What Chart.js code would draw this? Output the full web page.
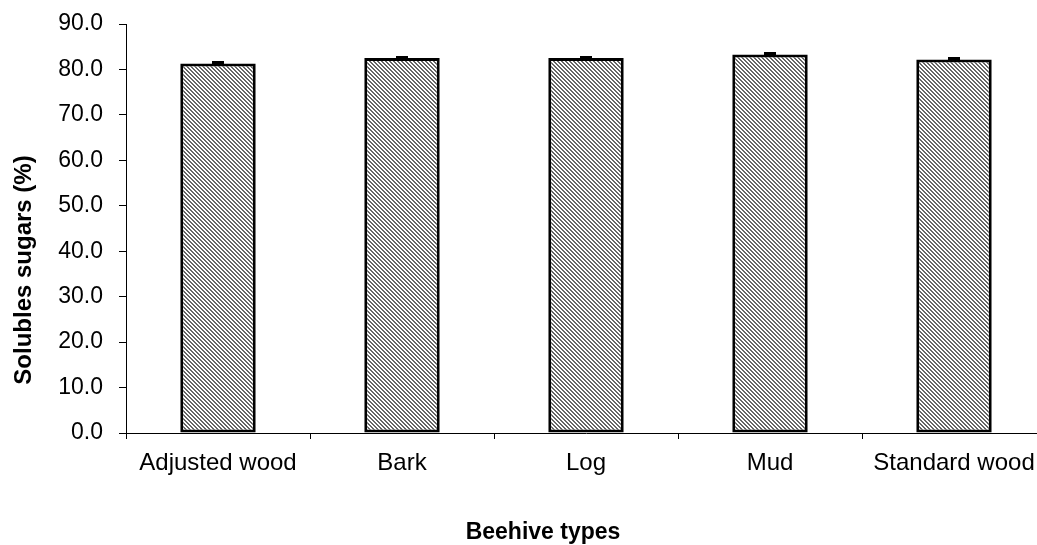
<!DOCTYPE html>
<html>
<head>
<meta charset="utf-8">
<script src="https://cdn.jsdelivr.net/npm/chart.js@4"></script>
<style>
  html, body { margin: 0; padding: 0; background: #fff; overflow: hidden; }
  #wrap { width: 1037px; height: 545px; overflow: hidden; }
</style>
</head>
<body>
<div id="wrap"><canvas id="chart" width="1048" height="545"></canvas></div>
<script>
// Data
const categories = ['Adjusted wood', 'Bark', 'Log', 'Mud', 'Standard wood'];
const sugarValues = [81.3, 82.5, 82.5, 83.3, 82.2];
const sugarErrors = [0.45, 0.45, 0.45, 0.5, 0.5];
const yTicks = [0, 10, 20, 30, 40, 50, 60, 70, 80, 90];

const yTitle = 'Solubles sugars (%)';
const xTitle = 'Beehive types';

const FONT = '"Liberation Sans", Arial, sans-serif';

// 4x4 tile with "\\" diagonal stripes, like the original bars
function hatchTile() {
  const c = document.createElement('canvas');
  c.width = 4;
  c.height = 4;
  const g = c.getContext('2d');
  g.fillStyle = '#ffffff';
  g.fillRect(0, 0, 4, 4);
  g.fillStyle = '#666666';
  for (let y = 0; y < 4; y++) {
    for (let x = 0; x < 4; x++) {
      const d = ((x - y) % 4 + 4) % 4;
      if (d === 0 || d === 1) g.fillRect(x, y, 1, 1);
    }
  }
  return c;
}

const ctx = document.getElementById('chart').getContext('2d');
const hatch = ctx.createPattern(hatchTile(), 'repeat');

// small black error bars on top of each bar
const errorBars = {
  id: 'errorBars',
  afterDatasetsDraw(chart) {
    const meta = chart.getDatasetMeta(0);
    const y = chart.scales.y;
    const c = chart.ctx;
    c.save();
    c.fillStyle = '#000';
    meta.data.forEach((bar, i) => {
      const top = y.getPixelForValue(sugarValues[i] + sugarErrors[i]);
      const bottom = y.getPixelForValue(sugarValues[i] - sugarErrors[i]);
      c.fillRect(Math.round(bar.x) - 6, Math.round(top), 12, Math.max(4, Math.round(bottom - top)));
    });
    c.restore();
  }
};

// axis titles placed where the original has them
const axisTitles = {
  id: 'axisTitles',
  afterDraw(chart) {
    const c = chart.ctx;
    c.save();
    c.fillStyle = '#000';
    c.font = 'bold 24px ' + FONT;
    c.textAlign = 'center';
    c.textBaseline = 'alphabetic';
    c.save();
    c.translate(31, 270);
    c.rotate(-Math.PI / 2);
    c.fillText(yTitle, 0, 0);
    c.restore();
    c.font = 'bold 23px ' + FONT;
    c.fillText(xTitle, 543, 539);
    c.restore();
  }
};

new Chart(ctx, {
  type: 'bar',
  data: {
    labels: categories,
    datasets: [{
      data: sugarValues,
      backgroundColor: hatch,
      borderColor: '#000',
      borderWidth: 3,
      borderSkipped: false,
      barPercentage: 0.41,
      categoryPercentage: 1.0
    }]
  },
  options: {
    responsive: false,
    animation: false,
    layout: { padding: { top: 24, right: 2, left: 0, bottom: 0 } },
    plugins: {
      legend: { display: false },
      tooltip: { enabled: false }
    },
    scales: {
      x: {
        offset: true,
        grid: {
          offset: true,
          drawOnChartArea: false,
          color: '#000',
          tickLength: 6,
          tickWidth: 1
        },
        border: { color: '#000', width: 1 },
        ticks: {
          color: '#000',
          font: { family: FONT, size: 24 },
          padding: 10,
          maxRotation: 0,
          autoSkip: false
        },
        afterFit(scale) { scale.height = 112; }
      },
      y: {
        min: 0,
        max: 90,
        afterBuildTicks(scale) { scale.ticks = yTicks.map(v => ({ value: v })); },
        grid: {
          drawOnChartArea: false,
          color: '#000',
          tickLength: 7
        },
        border: { color: '#000', width: 1 },
        ticks: {
          color: '#000',
          font: { family: FONT, size: 23 },
          padding: 16,
          callback: v => Number(v).toFixed(1)
        },
        afterFit(scale) {
          scale.width = 126;
          scale.paddingTop = 0;
          scale.paddingBottom = 0;
        }
      }
    }
  },
  plugins: [errorBars, axisTitles]
});
</script>
</body>
</html>
